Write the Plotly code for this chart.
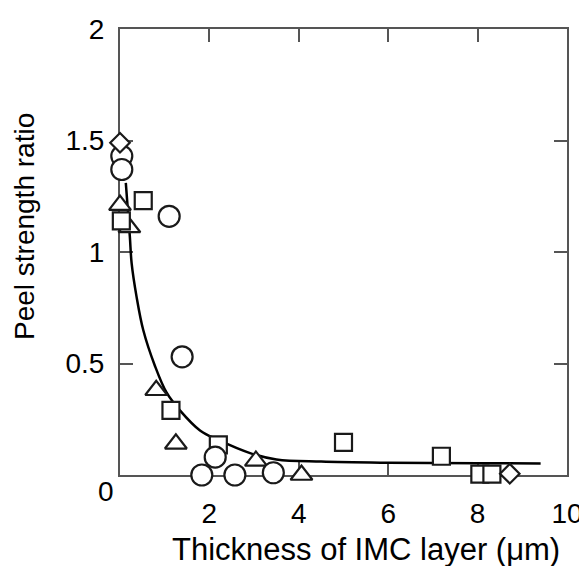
import plotly.graph_objects as go

# ---- data ----
circle_x = [1.10, 1.39, 2.13, 1.83, 2.57, 3.43, 0.04, 0.04]
circle_y = [1.16, 0.53, 0.08, 0.00, 0.00, 0.01, 1.43, 1.37]

square_x = [0.52, 0.03, 1.14, 2.20, 5.00, 7.19, 8.05, 8.32]
square_y = [1.23, 1.14, 0.29, 0.135, 0.146, 0.084, 0.004, 0.004]

triangle_x = [0.00, 0.21, 0.81, 1.25, 3.04, 4.06]
triangle_y = [1.21, 1.11, 0.38, 0.14, 0.063, 0.00]

diamond_x = [0.00, 8.72]
diamond_y = [1.49, 0.006]

fit_x = [0.13, 0.22, 0.26, 0.37, 0.52, 0.78, 1.04, 1.34, 1.79, 2.20, 2.91, 3.50, 4.50, 6.00, 8.00, 9.41]
fit_y = [1.31, 1.07, 0.95, 0.80, 0.65, 0.49, 0.37, 0.29, 0.20, 0.157, 0.098, 0.07, 0.06, 0.055, 0.053, 0.052]

x_ticks = [2, 4, 6, 8, 10]
y_ticks = [0.5, 1, 1.5, 2]

FONT = "Liberation Sans, Arial, Helvetica, sans-serif"
EDGE = "#1a1a1a"
AX = "#555555"

fig = go.Figure()

fig.add_trace(go.Scatter(x=fit_x, y=fit_y, mode="lines",
                         line=dict(color="black", width=2.5, shape="spline", smoothing=1.0),
                         showlegend=False, hoverinfo="skip", cliponaxis=False))

def add_markers(xs, ys, symbol, size):
    fig.add_trace(go.Scatter(x=xs, y=ys, mode="markers", cliponaxis=False, showlegend=False,
                             marker=dict(symbol=symbol, size=size, color="white",
                                         line=dict(color=EDGE, width=2.2))))

add_markers(triangle_x, triangle_y, "triangle-up", 19)
add_markers(square_x, square_y, "square", 17)
add_markers(circle_x, circle_y, "circle", 21)
add_markers(diamond_x, diamond_y, "diamond", 15)

axis_common = dict(showgrid=False, zeroline=False, showline=True, linecolor=AX, linewidth=2,
                   mirror="ticks", ticks="inside", ticklen=13, tickwidth=2, tickcolor=AX,
                   layer="below traces", tickfont=dict(family=FONT, size=28, color="black"))

fig.update_xaxes(range=[0, 10], tickvals=x_ticks, ticktext=[str(v) for v in x_ticks],
                 ticklabelstandoff=12, **axis_common)
fig.update_yaxes(range=[0, 2], tickvals=y_ticks, ticktext=["0.5", "1", "1.5", "2"],
                 ticklabelstandoff=8, **axis_common)

# the page body adds an 8 px offset, so the figure is 8 px smaller and shifted
fig.update_layout(
    width=579, height=558,
    margin=dict(l=112, r=20, t=21, b=91, autoexpand=False),
    plot_bgcolor="white", paper_bgcolor="white",
    font=dict(family=FONT, color="black"),
    annotations=[
        dict(text="0", x=0, y=0, xref="x", yref="y", showarrow=False,
             xanchor="right", yanchor="top", xshift=-4, yshift=1,
             font=dict(family=FONT, size=28, color="black")),
        dict(text="Thickness of IMC layer (μm)", x=0.551, y=-0.168, xref="paper", yref="paper",
             showarrow=False, xanchor="center", yanchor="middle",
             font=dict(family=FONT, size=31, color="black")),
        dict(text="Peel strength ratio", x=-0.215, y=0.558, xref="paper", yref="paper",
             showarrow=False, xanchor="center", yanchor="middle", textangle=-90,
             font=dict(family=FONT, size=28, color="black")),
    ],
)

fig.write_html("out.html")
